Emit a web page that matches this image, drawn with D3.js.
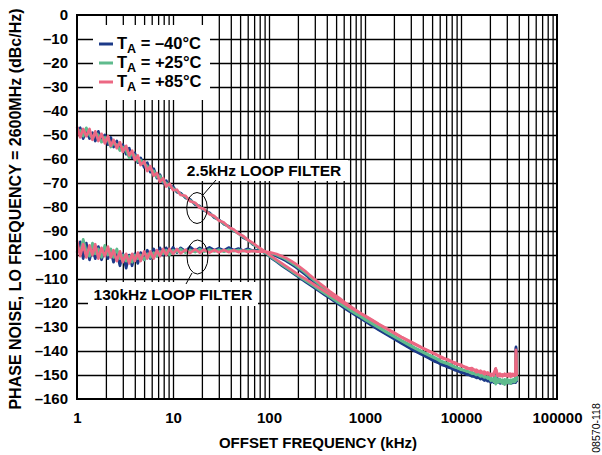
<!DOCTYPE html>
<html lang="en">
<head>
  <meta charset="UTF-8">
  <title>Phase Noise vs Offset Frequency</title>
  <style>
    body { margin: 0; background: #fff; }
    svg { display: block; font-family: "Liberation Sans", Arial, sans-serif; }
    .lbl { font-weight: bold; font-size: 15px; fill: #000; }
    .grid line { stroke: #000; stroke-width: 1.3; }
    .grid path { display: none; }
    .trace { fill: none; stroke-width: 2.7; stroke-linejoin: round; }
  </style>
</head>
<body>
<svg width="602" height="455"></svg>
<script src="https://d3js.org/d3.v7.min.js"></script>
<script>
// offset frequencies (kHz), shared by all traces
const freqs = [
  1, 1.08, 1.16, 1.25, 1.35, 1.45, 1.55, 1.67, 1.8, 1.95,
  2.1, 2.25, 2.4, 2.6, 2.8, 3.0, 3.25, 3.5, 3.75, 4.0,
  4.3, 4.6, 5.0, 5.4, 5.8, 6.3, 6.8, 7.3, 7.9, 8.5,
  9.2, 10, 11, 12, 13.5, 15, 17, 19, 21, 24,
  27, 30, 34, 38, 43, 48, 54, 60, 68, 76,
  85, 95, 105, 120, 135, 150, 170, 190, 215, 240,
  270, 300, 340, 380, 430, 480, 550, 620, 700, 800,
  900, 1000, 1200, 1400, 1700, 2000, 2400, 2800, 3300, 3900,
  4600, 5400, 6300, 7400, 8600, 10000, 11500, 13000, 14500, 16000,
  17500, 19000, 20500, 22000, 23000, 24000, 25500, 27000, 28500, 30000,
  31500, 33000, 34500, 36000, 37000, 37400, 37800
];

// 2.5kHz loop filter (dBc/Hz)
const lf25_m40 = [
  -48, -47, -51.5, -48, -51.5, -49, -52.5, -48.5, -52.5, -50,
  -54, -51, -55, -52.5, -56, -54, -58, -55.5, -59.5, -57.5,
  -61.5, -59.5, -63.5, -61.5, -65.5, -64, -68, -66.5, -70, -69,
  -72, -71.5, -73.8, -74.2, -76.2, -76.8, -79, -79.6, -81.5, -82.4,
  -84.5, -85.2, -87.2, -88, -90, -90.8, -92.8, -93.6, -95.6, -96.6,
  -98.3, -99.6, -101.2, -102.8, -104.3, -105.6, -107, -108.4, -109.9, -111.2,
  -112.6, -113.8, -115.3, -116.6, -118, -119.3, -120.9, -122.3, -123.7, -125.1,
  -126.4, -127.6, -129.6, -131.3, -133.3, -134.9, -136.8, -138.4, -140, -141.5,
  -142.9, -144.5, -145.4, -146.9, -147.6, -149, -149.3, -150.6, -150.4, -151.7,
  -151.2, -152.6, -151.9, -153.2, -147.5, -152.4, -153.5, -152.3, -153.6, -152.5,
  -153.4, -152.2, -153.3, -152.4, -153.2, -138.3, -152.8
];
const lf25_p25 = [
  -50, -48, -50.5, -47, -50, -51.5, -49, -50, -53, -51,
  -52, -55, -53.5, -54, -56.5, -55, -56.5, -59.5, -57.5, -58.5,
  -61, -60.5, -62, -63, -64.5, -65, -67.5, -67, -69.5, -70,
  -71.5, -72.2, -73.4, -74.6, -75.8, -77.2, -78.6, -79.9, -81.1, -82.8,
  -84.1, -85.5, -86.9, -88.3, -89.8, -91.1, -92.5, -93.8, -95.4, -96.7,
  -98.2, -99.5, -100.9, -102.5, -103.9, -105.2, -106.6, -108, -109.4, -110.7,
  -112, -113.2, -114.7, -116, -117.4, -118.7, -120.3, -121.6, -123, -124.5,
  -125.7, -126.9, -128.8, -130.4, -132.4, -134, -135.8, -137.3, -138.9, -140.3,
  -141.8, -143.1, -144.6, -145.5, -146.8, -147.5, -148.6, -148.8, -150, -149.7,
  -151, -150.6, -152.4, -151.4, -153.8, -151.8, -153, -152, -154, -151.7,
  -153.2, -152, -152.8, -151.6, -152.5, -141, -152.5
];
const lf25_p85 = [
  -46.5, -51, -47.5, -50.5, -47.5, -52, -48.5, -52.5, -49.5, -53.5,
  -50.5, -54.5, -52, -55.5, -53, -57, -54.5, -58.5, -56.5, -60.5,
  -58.5, -62.5, -61, -65, -63, -67, -65.8, -69.5, -68, -71.5,
  -70.3, -73, -72.8, -75, -75.3, -77.6, -78.2, -80.3, -80.8, -83,
  -83.8, -85.6, -86.5, -88.4, -89.4, -91.1, -92.1, -93.7, -95, -96.5,
  -97.8, -99.1, -100.4, -102, -103.4, -104.6, -106.1, -107.4, -108.8, -110,
  -111.3, -112.5, -113.9, -115.1, -116.5, -117.7, -119.2, -120.5, -121.8, -123.2,
  -124.4, -125.5, -127.4, -129, -130.9, -132.5, -134.3, -135.7, -137.2, -138.7,
  -140.1, -141.2, -143, -143.6, -145.3, -145.7, -147.4, -147.1, -148.8, -148.2,
  -149.7, -148.9, -150.3, -149.2, -147.2, -150.4, -149.4, -150.6, -149.5, -150.5,
  -149.4, -150.7, -149.6, -150.3, -149.6, -139.5, -150.2
];

// 130kHz loop filter (dBc/Hz)
const lf130_m40 = [
  -99, -94.5, -101.5, -95, -102, -97, -101.5, -96.5, -102, -97.5,
  -101.5, -98, -103, -99, -104.5, -99.5, -105.5, -100, -104.5, -99.5,
  -103.5, -99, -102, -98, -101.5, -97.5, -100.5, -97, -100, -97,
  -99.5, -96.8, -99, -97, -98.5, -96.6, -98.3, -97, -98.2, -96.8,
  -98, -97.2, -98.1, -96.9, -98, -97.3, -98.2, -97.4, -98.2, -97.9,
  -98.6, -99, -99.6, -100.5, -101.5, -102.4, -103.8, -105.1, -106.7, -108.2,
  -110, -111.5, -113.3, -114.8, -116.4, -117.9, -119.7, -121.3, -122.9, -124.6,
  -125.9, -127.2, -129.3, -131, -133, -134.6, -136.5, -138.1, -139.7, -141.2,
  -142.6, -144, -145.8, -146.4, -148, -148.4, -149.9, -150.1, -151.2, -151,
  -152.3, -151.8, -153.1, -152.2, -148.5, -153, -152.1, -153.4, -152.4, -153.3,
  -152.3, -153.5, -152.4, -153.2, -152.6, -138.8, -153
];
const lf130_p25 = [
  -96, -99, -93.5, -98.5, -100.5, -95, -99.5, -97.5, -101, -96,
  -100, -97.5, -101, -97.5, -101.5, -100, -102.5, -100.5, -103, -100,
  -101.5, -100, -102, -99.5, -101, -99, -100.5, -98.5, -99.5, -98,
  -100, -98, -98.8, -97.5, -99, -97.9, -98.8, -97.6, -98.6, -97.7,
  -98.5, -97.8, -98.6, -97.8, -98.4, -97.9, -98.4, -98, -98.4, -98.4,
  -98.6, -98.9, -99.3, -100, -100.9, -101.8, -103.2, -104.4, -106, -107.5,
  -109.3, -110.8, -112.6, -114.1, -115.8, -117.2, -119, -120.6, -122.1, -123.8,
  -125.1, -126.3, -128.5, -130.1, -132.1, -133.7, -135.6, -137, -138.6, -140.1,
  -141.5, -142.8, -144.3, -145.2, -146.5, -147.8, -148.3, -149.4, -149.3, -150.6,
  -150.2, -151.5, -151, -152.8, -150.5, -153.2, -151.7, -153.5, -151.8, -153.4,
  -152, -153.6, -151.9, -153, -152, -141.5, -152.3
];
const lf130_p85 = [
  -94, -100.5, -95.5, -101, -96, -100, -95.5, -101.5, -97, -100.5,
  -96.5, -101, -98, -102.5, -98.5, -103, -99.5, -103.5, -99.5, -102.5,
  -99, -102.5, -98.5, -101.5, -98.5, -101.5, -98, -100.5, -97.5, -100,
  -97.5, -99.5, -97.5, -99.3, -97.8, -99.2, -97.6, -99, -97.8, -99,
  -97.9, -98.9, -97.9, -98.8, -98, -98.8, -98.1, -98.7, -98.3, -98.6,
  -98.5, -98.7, -99, -99.6, -100.4, -101.2, -102.5, -103.7, -105.3, -106.8,
  -108.6, -110.1, -111.9, -113.4, -115.1, -116.5, -118.2, -119.8, -121.3, -122.9,
  -124.2, -125.3, -127.2, -128.8, -130.7, -132.3, -134.1, -135.5, -137, -138.5,
  -139.9, -141.4, -142.5, -144, -144.8, -146.2, -146.8, -148, -147.8, -149.1,
  -148.6, -149.8, -149.5, -150.2, -147.6, -149.5, -150.5, -149.7, -150.3, -149.6,
  -150.5, -149.5, -150.4, -149.5, -150.2, -140, -150.4
];

const yTicks = [0, -10, -20, -30, -40, -50, -60, -70, -80, -90, -100, -110, -120, -130, -140, -150, -160];
const xTicks = [1, 10, 100, 1000, 10000, 100000];
const tempLabels = ["\u201340\u00B0C", "+25\u00B0C", "+85\u00B0C"];
const colors = ["#1c3a88", "#5fbb8d", "#ec6883"];

const plotL = 77, plotT = 15, plotR = 557, plotB = 399;

const svg = d3.select("svg");

const x = d3.scaleLog().domain([1, 100000]).range([plotL, plotR]);
const y = d3.scaleLinear().domain([-160, 0]).range([plotB, plotT]);

// grid
const gridX = x.ticks(50).filter(v => v > 1 && v < 100000);
svg.append("g")
  .attr("class", "grid")
  .attr("transform", `translate(0,${plotB})`)
  .call(d3.axisBottom(x).tickValues(gridX).tickSize(-(plotB - plotT)).tickFormat(""));

svg.append("g")
  .attr("class", "grid")
  .attr("transform", `translate(${plotL},0)`)
  .call(d3.axisLeft(y).tickValues(yTicks.slice(1, -1)).tickSize(-(plotR - plotL)).tickFormat(""));

// white boxes behind legend and notes
svg.append("rect").attr("x", 93).attr("y", 25).attr("width", 117).attr("height", 75).attr("fill", "#fff");
svg.append("rect").attr("x", 180).attr("y", 160).attr("width", 168).attr("height", 21).attr("fill", "#fff");
svg.append("rect").attr("x", 88).attr("y", 282).attr("width", 170).attr("height", 24).attr("fill", "#fff");

// traces: blue first, pink on top
const line = d3.line().x(d => x(d[0])).y(d => y(d[1]));
const series = [
  [lf25_m40, 0], [lf130_m40, 0],
  [lf25_p25, 1], [lf130_p25, 1],
  [lf25_p85, 2], [lf130_p85, 2]
];
series.forEach(([vals, c]) => {
  svg.append("path")
    .attr("class", "trace")
    .attr("stroke", colors[c])
    .attr("d", line(freqs.map((f, i) => [f, vals[i]])));
});

// frame
svg.append("rect")
  .attr("x", plotL).attr("y", plotT)
  .attr("width", plotR - plotL).attr("height", plotB - plotT)
  .attr("fill", "none").attr("stroke", "#000").attr("stroke-width", 2);

// axis labels
const yAxis = svg.append("g")
  .attr("transform", `translate(${plotL},0)`)
  .call(d3.axisLeft(y).tickValues(yTicks).tickSize(0).tickPadding(9)
    .tickFormat(d => d === 0 ? "0" : "\u2013" + Math.abs(d)));
yAxis.select(".domain").remove();
yAxis.attr("font-family", null).attr("font-size", null);
yAxis.selectAll("text").attr("class", "lbl");

const xAxis = svg.append("g")
  .attr("transform", `translate(0,${plotB})`)
  .call(d3.axisBottom(x).tickValues(xTicks).tickSize(0).tickPadding(13)
    .tickFormat(d3.format("d")));
xAxis.select(".domain").remove();
xAxis.attr("font-family", null).attr("font-size", null);
xAxis.selectAll("text").attr("class", "lbl");

svg.append("text").attr("class", "lbl")
  .attr("x", 318).attr("y", 448).attr("text-anchor", "middle")
  .text("OFFSET FREQUENCY (kHz)");

svg.append("text").attr("class", "lbl")
  .attr("transform", "translate(21,209) rotate(-90)")
  .attr("text-anchor", "middle")
  .style("font-size", "16px")
  .text("PHASE NOISE, LO FREQUENCY = 2600MHz (dBc/Hz)");

svg.append("text")
  .attr("transform", "translate(600,428) rotate(-90)")
  .attr("text-anchor", "middle")
  .attr("font-size", 10.5)
  .text("08570-118");

// legend
tempLabels.forEach((t, i) => {
  const ly = 44 + i * 19;
  svg.append("line")
    .attr("x1", 99).attr("x2", 113).attr("y1", ly).attr("y2", ly)
    .attr("stroke", colors[i]).attr("stroke-width", 3);
  const tx = svg.append("text").attr("class", "lbl")
    .attr("x", 117).attr("y", ly + 5).style("font-size", "16.5px");
  tx.append("tspan").text("T");
  tx.append("tspan").attr("dy", 4).style("font-size", "12.5px").text("A");
  tx.append("tspan").attr("dy", -4).text(" = " + t);
});

// notes
svg.append("text").attr("class", "lbl")
  .attr("x", 264).attr("y", 176).attr("text-anchor", "middle")
  .style("font-size", "15.5px")
  .text("2.5kHz LOOP FILTER");
svg.append("text").attr("class", "lbl")
  .attr("x", 173).attr("y", 300).attr("text-anchor", "middle")
  .style("font-size", "15.5px")
  .text("130kHz LOOP FILTER");

svg.append("ellipse").attr("cx", 197).attr("cy", 208).attr("rx", 10.3).attr("ry", 15.5)
  .attr("fill", "none").attr("stroke", "#000").attr("stroke-width", 1);
svg.append("line").attr("x1", 203).attr("y1", 195).attr("x2", 216).attr("y2", 180)
  .attr("stroke", "#000").attr("stroke-width", 1);
svg.append("ellipse").attr("cx", 197.5).attr("cy", 257).attr("rx", 10.5).attr("ry", 17)
  .attr("fill", "none").attr("stroke", "#000").attr("stroke-width", 1);
svg.append("line").attr("x1", 192).attr("y1", 273).attr("x2", 186).attr("y2", 284)
  .attr("stroke", "#000").attr("stroke-width", 1);
</script>
</body>
</html>
